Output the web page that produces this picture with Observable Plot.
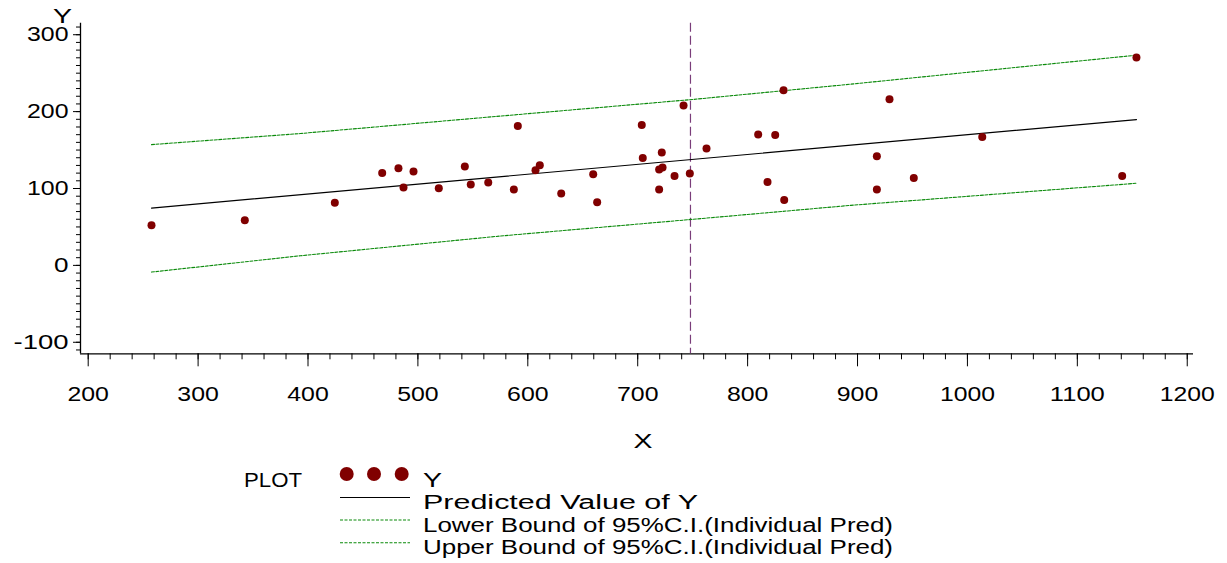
<!DOCTYPE html>
<html><head><meta charset="utf-8">
<script src="https://cdn.jsdelivr.net/npm/d3@7"></script>
<script src="https://cdn.jsdelivr.net/npm/@observablehq/plot@0.6"></script>
<style>
body{margin:0;background:#fff;}
#wrap{position:relative;width:1227px;height:563px;font-family:"Liberation Sans",Arial,sans-serif;}
#wrap > svg{position:absolute;left:0;top:0;}
</style></head><body><div id="wrap"></div>
<script>
// Observations
const xValues = [257.6, 342.5, 424.4, 467.5, 482.3, 486.9, 496.0, 519.0, 542.7, 548.1,
  564.0, 587.3, 590.9, 607.0, 610.9, 630.4, 659.5, 663.1, 703.7, 704.6,
  719.5, 719.5, 722.6, 721.9, 733.5, 741.7, 747.4, 762.6, 809.6, 825.1,
  818.1, 832.7, 833.3, 917.6, 917.6, 929.1, 951.2, 1013.5, 1140.8, 1153.8];
const yValues = [52.1, 58.6, 81.6, 120.2, 126.3, 101.2, 122.0, 100.3, 128.5, 105.1,
  107.7, 98.6, 181.4, 123.7, 130.2, 93.4, 118.5, 82.0, 182.7, 139.7,
  98.6, 124.6, 127.2, 146.7, 116.3, 207.9, 119.4, 151.9, 170.2, 169.7,
  108.5, 227.9, 85.0, 141.9, 98.6, 216.1, 113.7, 167.1, 116.3, 270.4];
// Predicted line and 95% individual prediction bounds
const predX = [257.6, 1153.8];
const predY = [74.6, 189.7];
const ciX = [257.6, 393, 575, 750, 894, 1153.8];
const ciLower = [-8.7, 12.5, 38.2, 59.9, 78.1, 106.8];
const ciUpper = [157.1, 171.5, 194.2, 215.8, 235.7, 273.4];
const refX = 748;
// Axes
const xTicks = [200, 300, 400, 500, 600, 700, 800, 900, 1000, 1100, 1200];
const yTicks = [-100, 0, 100, 200, 300];
const xMinor = d3.range(200, 1201, 20);
const yMinor = d3.range(-110, 311, 10);
const xDomain = [193, 1205.7];
const yDomain = [-115, 315];

const points = xValues.map((x, i) => ({x, y: yValues[i]}));
const pred = predX.map((x, i) => ({x, y: predY[i]}));
const lower = ciX.map((x, i) => ({x, y: ciLower[i]}));
const upper = ciX.map((x, i) => ({x, y: ciUpper[i]}));

const font = '"Liberation Sans", Arial, sans-serif';
const chart = Plot.plot({
  width: 1227, height: 455,
  marginLeft: 80, marginRight: 34, marginTop: 22.7, marginBottom: 101.7,
  style: {fontFamily: font, fontSize: "20px", background: "transparent"},
  x: {domain: xDomain, label: null},
  y: {domain: yDomain, label: null},
  marks: [
    Plot.axisY({ticks: yMinor, tickSize: 4, tickFormat: () => "", label: null}),
    Plot.axisY({ticks: yTicks, tickSize: 7, tickPadding: 5, fontSize: 20, label: null, tickFormat: d => String(d)}),
    Plot.axisX({ticks: xMinor, tickSize: 6, tickFormat: () => "", label: null}),
    Plot.axisX({ticks: xTicks, tickSize: 13, tickPadding: 19.7, fontSize: 20, label: null, tickFormat: d => String(d)}),
    Plot.ruleX([xDomain[0]], {stroke: "#000", strokeWidth: 1.3}),
    Plot.ruleY([yDomain[0]], {stroke: "#000", strokeWidth: 1.3}),
    Plot.ruleX([refX], {stroke: "#7a3d7a", strokeWidth: 1.2, strokeDasharray: "9,4"}),
    Plot.line(lower, {x: "x", y: "y", stroke: "#0a8a0a", strokeWidth: 1.1, strokeDasharray: "3,1.5"}),
    Plot.line(upper, {x: "x", y: "y", stroke: "#0a8a0a", strokeWidth: 1.1, strokeDasharray: "3,1.5"}),
    Plot.line(pred, {x: "x", y: "y", stroke: "#000", strokeWidth: 1.2}),
    Plot.dot(points, {x: "x", y: "y", r: 4, fill: "#800000", stroke: "none"})
  ]
});
// widen tick labels to match the wide SAS font
d3.select(chart).selectAll('g[aria-label$="tick label"] text').each(function() {
  const t = this.textContent;
  if (t) this.setAttribute("textLength", 13.5 * t.length + 1), this.setAttribute("lengthAdjust", "spacingAndGlyphs");
});
const wrap = document.getElementById("wrap");
wrap.appendChild(chart);

// Titles and legend overlay
const ov = d3.select(wrap).append("svg").attr("width", 1227).attr("height", 563)
  .style("pointer-events", "none").attr("font-family", font).attr("font-size", 20);
function txt(s, x, y, w) {
  const t = ov.append("text").attr("x", x).attr("y", y).text(s);
  if (w) t.attr("textLength", w).attr("lengthAdjust", "spacingAndGlyphs");
  return t;
}
txt("Y", 53, 23, 19);
txt("X", 633.5, 448, 19);
const legendLabels = ["Y", "Predicted Value of Y", "Lower Bound of 95%C.I.(Individual Pred)", "Upper Bound of 95%C.I.(Individual Pred)"];
const legendWidths = [19, 275, 470, 470];
txt("PLOT", 244, 487, 58);
[346.7, 374, 401.7].forEach(cx => ov.append("circle").attr("cx", cx).attr("cy", 474).attr("r", 7).attr("fill", "#800000"));
const rowsY = [487, 509, 532, 554];
legendLabels.forEach((s, i) => txt(s, 423, rowsY[i], legendWidths[i]));
ov.append("line").attr("x1", 340).attr("x2", 410).attr("y1", 497.5).attr("y2", 497.5).attr("stroke", "#000").attr("stroke-width", 1.2);
[520, 542.7].forEach(y => ov.append("line").attr("x1", 340).attr("x2", 410).attr("y1", y).attr("y2", y)
  .attr("stroke", "#0a8a0a").attr("stroke-width", 1.1).attr("stroke-dasharray", "3,1.5"));
</script></body></html>
